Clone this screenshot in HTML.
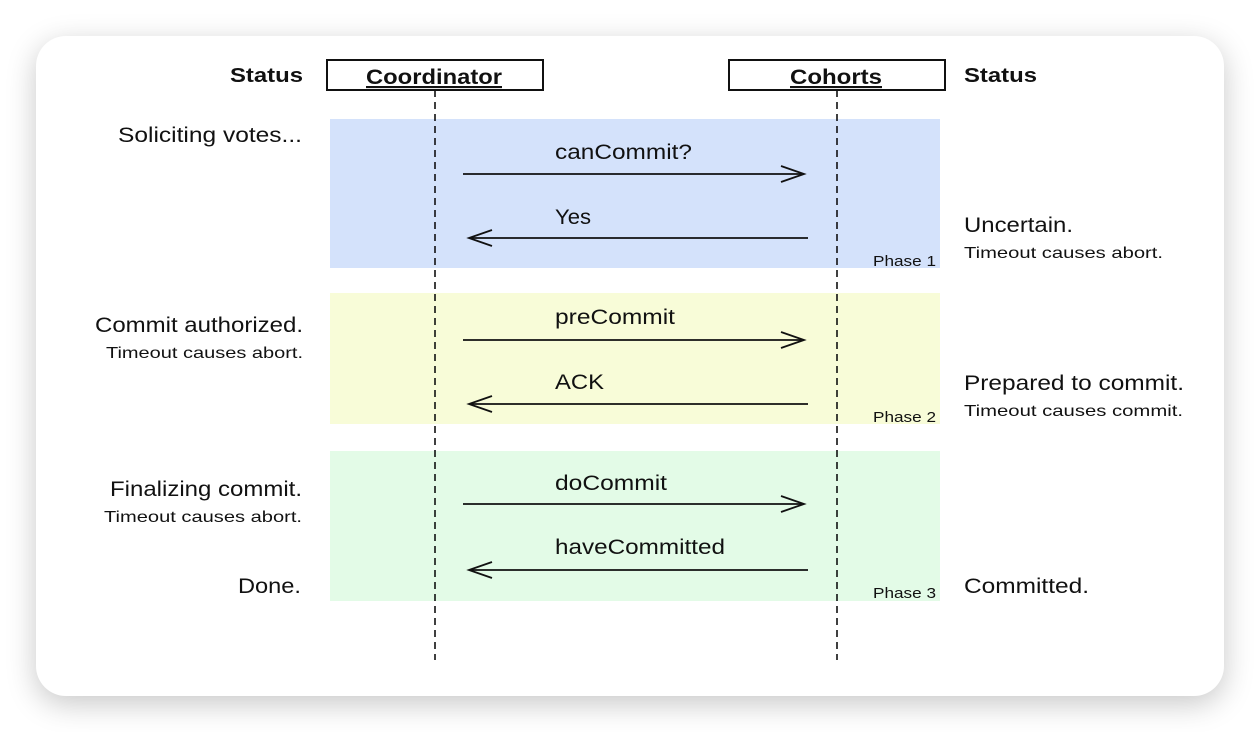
<!DOCTYPE html>
<html><head><style>
html,body{margin:0;padding:0;background:#fff;}
body{width:1260px;height:732px;overflow:hidden;position:relative;}
.card{position:absolute;left:36px;top:36px;width:1188px;height:660px;background:#fff;border-radius:30px;box-shadow:0 8px 30px rgba(0,0,0,0.22);}
svg{position:absolute;left:0;top:0;}
text{font-family:"Liberation Sans",Arial,sans-serif;fill:#111;}
</style></head><body>
<div class="card"></div>
<svg width="1260" height="732" viewBox="0 0 1260 732">
<rect x="330" y="119" width="610" height="149" fill="#d4e2fb"/>
<rect x="330" y="293" width="610" height="131" fill="#f8fcd8"/>
<rect x="330" y="451" width="610" height="150" fill="#e3fbe7"/>
<g stroke="#111" stroke-width="1.6" stroke-dasharray="7,5">
<line x1="435" y1="90" x2="435" y2="660"/>
<line x1="837" y1="90" x2="837" y2="660"/>
</g>
<rect x="327" y="60" width="216" height="30" fill="#fff" stroke="#111" stroke-width="2"/>
<rect x="729" y="60" width="216" height="30" fill="#fff" stroke="#111" stroke-width="2"/>
<text x="366" y="84" font-size="21" font-weight="bold" text-decoration="underline" textLength="136" lengthAdjust="spacingAndGlyphs">Coordinator</text>
<text x="790" y="84" font-size="21" font-weight="bold" text-decoration="underline" textLength="92" lengthAdjust="spacingAndGlyphs">Cohorts</text>
<text x="230" y="82" font-size="20" font-weight="bold" textLength="73" lengthAdjust="spacingAndGlyphs">Status</text>
<text x="964" y="82" font-size="20" font-weight="bold" textLength="73" lengthAdjust="spacingAndGlyphs">Status</text>
<g stroke="#111" stroke-width="1.8" fill="none">
<line x1="463" y1="174" x2="804" y2="174"/><polyline points="781,166 804,174 781,182"/>
<line x1="469" y1="238" x2="808" y2="238"/><polyline points="492,230 469,238 492,246"/>
<line x1="463" y1="340" x2="804" y2="340"/><polyline points="781,332 804,340 781,348"/>
<line x1="469" y1="404" x2="808" y2="404"/><polyline points="492,396 469,404 492,412"/>
<line x1="463" y1="504" x2="804" y2="504"/><polyline points="781,496 804,504 781,512"/>
<line x1="469" y1="570" x2="808" y2="570"/><polyline points="492,562 469,570 492,578"/>
</g>
<g font-size="21" lengthAdjust="spacingAndGlyphs">
<text x="555" y="159" textLength="137" lengthAdjust="spacingAndGlyphs">canCommit?</text>
<text x="555" y="224" textLength="36" lengthAdjust="spacingAndGlyphs">Yes</text>
<text x="555" y="324" textLength="120" lengthAdjust="spacingAndGlyphs">preCommit</text>
<text x="555" y="389" textLength="49" lengthAdjust="spacingAndGlyphs">ACK</text>
<text x="555" y="490" textLength="112" lengthAdjust="spacingAndGlyphs">doCommit</text>
<text x="555" y="554" textLength="170" lengthAdjust="spacingAndGlyphs">haveCommitted</text>
</g>
<g font-size="15" fill="#223">
<text x="873" y="266" textLength="63" lengthAdjust="spacingAndGlyphs">Phase 1</text>
<text x="873" y="422" textLength="63" lengthAdjust="spacingAndGlyphs">Phase 2</text>
<text x="873" y="598" textLength="63" lengthAdjust="spacingAndGlyphs">Phase 3</text>
</g>
<text x="118" y="142" font-size="21" textLength="184" lengthAdjust="spacingAndGlyphs">Soliciting votes...</text>
<text x="95" y="332" font-size="21" textLength="208" lengthAdjust="spacingAndGlyphs">Commit authorized.</text>
<text x="106" y="358" font-size="16" textLength="197" lengthAdjust="spacingAndGlyphs">Timeout causes abort.</text>
<text x="110" y="496" font-size="21" textLength="192" lengthAdjust="spacingAndGlyphs">Finalizing commit.</text>
<text x="104" y="522" font-size="16" textLength="198" lengthAdjust="spacingAndGlyphs">Timeout causes abort.</text>
<text x="238" y="593" font-size="21" textLength="63" lengthAdjust="spacingAndGlyphs">Done.</text>
<text x="964" y="232" font-size="21" textLength="109" lengthAdjust="spacingAndGlyphs">Uncertain.</text>
<text x="964" y="258" font-size="16" textLength="199" lengthAdjust="spacingAndGlyphs">Timeout causes abort.</text>
<text x="964" y="390" font-size="21" textLength="220" lengthAdjust="spacingAndGlyphs">Prepared to commit.</text>
<text x="964" y="416" font-size="16" textLength="219" lengthAdjust="spacingAndGlyphs">Timeout causes commit.</text>
<text x="964" y="593" font-size="21" textLength="125" lengthAdjust="spacingAndGlyphs">Committed.</text>
</svg>
</body></html>
